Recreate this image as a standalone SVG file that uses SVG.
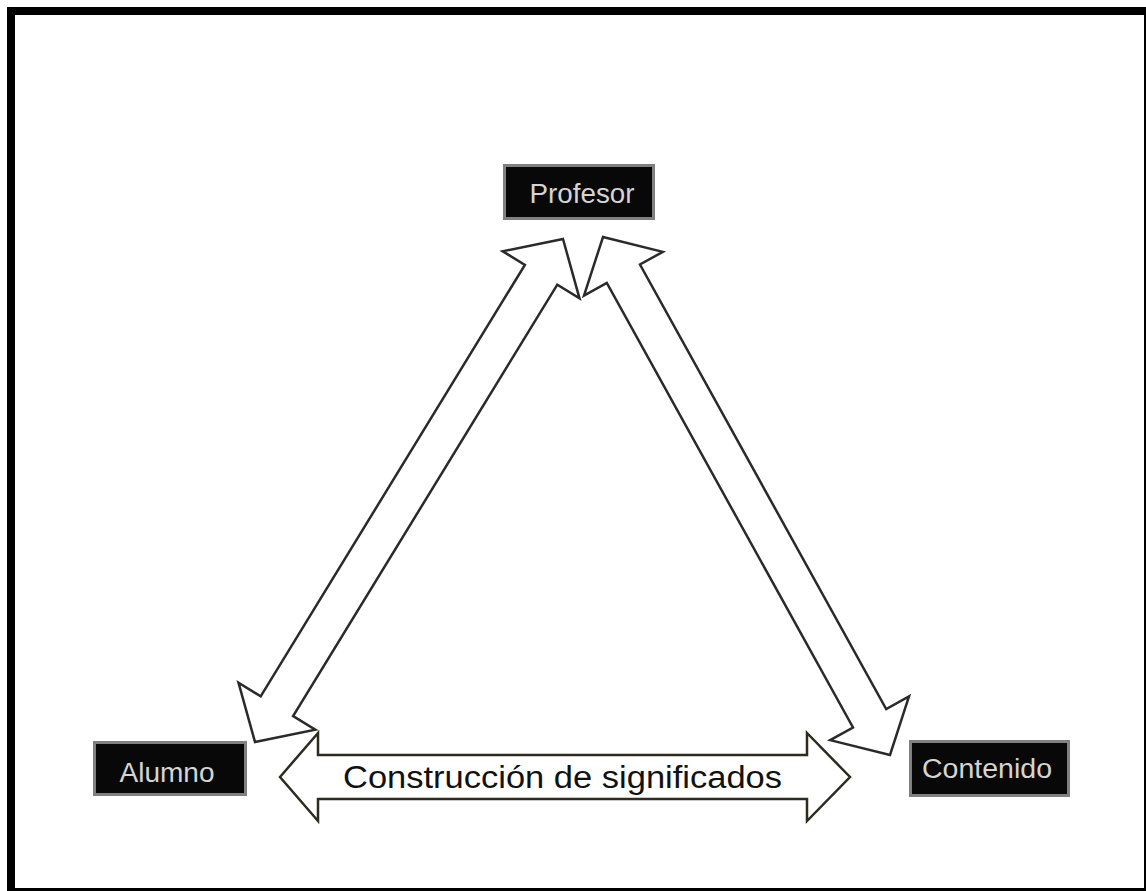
<svg xmlns="http://www.w3.org/2000/svg" width="1146" height="891" viewBox="0 0 1146 891">
<style>
.box{fill:#080808;stroke:#808080;stroke-width:3}
.lbl{font-family:"Liberation Sans",Arial,sans-serif;font-size:27px;fill:#d4d4d4;text-anchor:middle}
.arr{fill:#ffffff;stroke:#2a2a2a;stroke-width:2.5;stroke-linejoin:miter}
.harr{fill:#ffffff;stroke:#2e2a1e;stroke-width:2.5}
.big{font-family:"Liberation Sans",Arial,sans-serif;font-size:31px;fill:#111111}
</style>
<rect x="0" y="0" width="1146" height="891" fill="#ffffff"/>
<rect x="11" y="11" width="1137" height="881" fill="none" stroke="#000000" stroke-width="8"/>
<g id="connectors">
<polygon class="arr" points="563,239 579.5,298.3 557.3,284.7 293.1,716.1 315.3,729.7 255,742 238.5,682.7 260.7,696.3 524.9,264.9 502.7,251.3"/>
<polygon class="arr" points="603,237 662.8,251.9 640,264.5 886.2,709.1 909,696.5 890,755 830.2,740.1 853,727.5 606.8,282.9 584,295.5"/>
<polygon class="harr" points="280,777 318,733 318,755 807,755 807,733 850,777 807,821 807,799 318,799 318,821"/>
<text class="big" x="343" y="788" textLength="439" lengthAdjust="spacingAndGlyphs">Construcción de significados</text>
</g>
<g id="profesor">
<rect class="box" x="504.5" y="165.5" width="149" height="53"/>
<text class="lbl" x="582" y="203" textLength="105" lengthAdjust="spacingAndGlyphs">Profesor</text>
</g>
<g id="alumno">
<rect class="box" x="94.5" y="742.5" width="151" height="52"/>
<text class="lbl" x="167" y="782" textLength="95" lengthAdjust="spacingAndGlyphs">Alumno</text>
</g>
<g id="contenido">
<rect class="box" x="910.5" y="741.5" width="158" height="54"/>
<text class="lbl" x="987" y="778" textLength="130" lengthAdjust="spacingAndGlyphs">Contenido</text>
</g>
</svg>
